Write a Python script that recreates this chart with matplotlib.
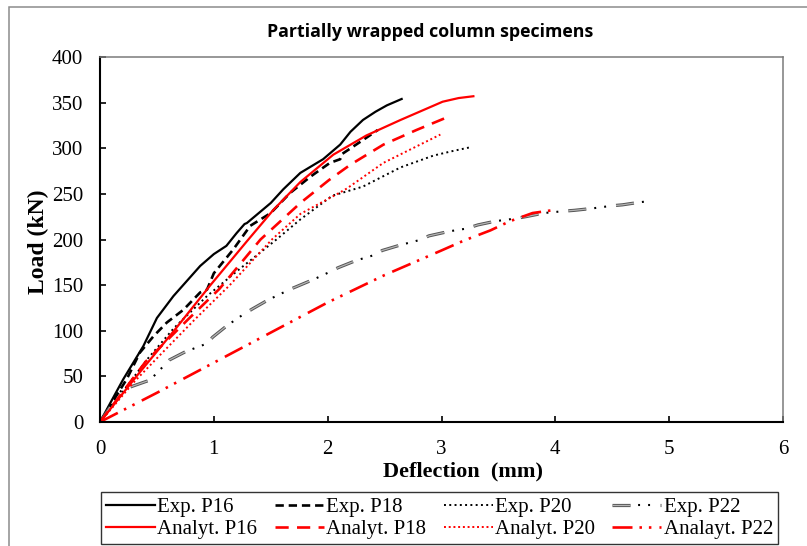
import matplotlib
matplotlib.use('Agg')
import matplotlib.pyplot as plt
from matplotlib.legend_handler import HandlerTuple
from matplotlib.patches import Rectangle
from matplotlib.font_manager import FontProperties

plt.rcParams['lines.scale_dashes'] = False

# ---------------- data (deflection in mm, load in kN) ----------------
exp_p16_d = [0, 0.1, 0.205, 0.38, 0.5, 0.645, 0.88, 1.0, 1.11, 1.2, 1.27, 1.29, 1.5, 1.61, 1.76, 1.96, 2.11, 2.2, 2.31, 2.42, 2.52, 2.65]
exp_p16_L = [0, 23, 47, 83, 114, 138, 171, 184, 193, 207, 217, 218, 240, 255, 273, 288, 304, 318, 331, 340, 347, 354]

exp_p18_d = [0, 0.235, 0.35, 0.47, 0.587, 0.733, 0.88, 0.94, 1.0, 1.17, 1.32, 1.5, 1.67, 1.85, 2.02, 2.11, 2.13, 2.31, 2.44]
exp_p18_L = [0, 47, 76, 94, 109, 123, 142, 145, 163, 189, 215, 229, 251, 269, 284, 288, 294, 309, 320]

exp_p20_d = [0, 0.2, 0.41, 0.65, 0.94, 1.2, 1.55, 1.76, 2.04, 2.15, 2.31, 2.64, 2.93, 3.1, 3.25]
exp_p20_L = [0, 33, 68, 103, 138, 165, 200, 222, 248, 252, 258, 279, 292, 297, 301]

exp_p22_d = [0, 0.19, 0.44, 0.61, 0.75, 0.94, 0.99, 1.12, 1.26, 1.34, 1.48, 1.63, 1.70, 1.89, 2.01, 2.09, 2.25,
             2.41, 2.48, 2.64, 2.81, 2.89, 3.07, 3.22, 3.32, 3.47, 3.65, 3.74, 3.9, 4.07, 4.17, 4.32, 4.5, 4.59, 4.75, 4.83]
exp_p22_L = [0, 35, 46, 68, 77, 86, 93, 106, 118, 124, 134, 143, 147, 157, 164, 169, 177,
             183, 188, 194, 199.5, 204, 209, 212, 216, 220, 223, 225, 229, 231, 232, 234, 237, 238, 241, 242]

an_p16_d = [0, 0.32, 0.65, 0.97, 1.29, 1.52, 1.76, 2.05, 2.34, 2.64, 3.01, 3.15, 3.28]
an_p16_L = [0, 50, 100, 150, 198, 232, 263, 293, 314, 331, 351, 355, 357]

an_p18_d = [0, 0.4, 0.77, 1.05, 1.41, 1.76, 2.01, 2.2, 2.49, 2.78, 3.07]
an_p18_L = [0, 66, 112, 146, 200, 240, 265, 282, 304, 320, 335]

an_p20_d = [0, 0.3, 0.54, 0.83, 1.14, 1.51, 1.76, 2.1, 2.17, 2.49, 2.78, 2.99]
an_p20_L = [0, 44, 75, 112, 150, 200, 228, 251, 256, 284, 302, 315]

an_p22_d = [0, 0.5, 1.0, 1.5, 2.0, 2.5, 3.0, 3.2, 3.43, 3.6, 3.8, 3.97]
an_p22_L = [0, 32, 65, 98, 131, 161, 188, 199, 210, 220, 229, 232]

labels = ['Exp. P16', 'Analyt. P16', 'Exp. P18', 'Analyt. P18',
          'Exp. P20', 'Analyt. P20', 'Exp. P22', 'Analayt. P22']
x_ticks = [0, 1, 2, 3, 4, 5, 6]
y_ticks = [0, 50, 100, 150, 200, 250, 300, 350, 400]

# ---------------- figure ----------------
W, H = 807, 546
fig = plt.figure(figsize=(W / 100, H / 100), dpi=100)
fig.patches.append(Rectangle((9 / W, -0.2), 1.2, 1 - 7 / H + 0.2, transform=fig.transFigure,
                             fill=False, edgecolor='#8c8c8c', lw=1.1, zorder=0))
ax = fig.add_axes([100 / W, 1 - 422 / H, 683 / W, 365 / H])

serif = 'Liberation Serif'

h1, = ax.plot(exp_p16_d, exp_p16_L, color='black', lw=1.6, solid_joinstyle='round')
h2, = ax.plot(exp_p18_d, exp_p18_L, color='black', lw=1.9, dashes=(6, 3.5))
h3, = ax.plot(exp_p20_d, exp_p20_L, color='black', lw=1.4, dashes=(1.4, 2.4))
h4a, = ax.plot(exp_p22_d, exp_p22_L, color='#555555', lw=2.3, dashes=(13, 21.6))
h4b, = ax.plot(exp_p22_d, exp_p22_L, color='#b5b5b5', lw=0.9, dashes=(13, 21.6))
h4c, = ax.plot(exp_p22_d, exp_p22_L, color='black', lw=1.5, linestyle=(15.8, (1.4, 5.8, 1.4, 26)))

r1, = ax.plot(an_p16_d, an_p16_L, color='red', lw=1.6)
r2, = ax.plot(an_p18_d, an_p18_L, color='red', lw=1.9, dashes=(9.5, 6))
r3, = ax.plot(an_p20_d, an_p20_L, color='red', lw=1.4, dashes=(1.4, 2.0))
r4, = ax.plot(an_p22_d, an_p22_L, color='red', lw=1.9, linestyle=(0, (14.4, 5, 1.8, 5, 1.8, 5.8)))

ax.set_xlim(0, 6)
ax.set_ylim(0, 400)
ax.set_xticks(x_ticks)
ax.set_yticks(y_ticks)
ax.set_xticklabels([str(v) for v in x_ticks], fontfamily=serif, fontsize=15)
ax.set_yticklabels([str(v) for v in y_ticks], fontfamily=serif, fontsize=15)
ax.tick_params(direction='in', length=4, width=1.2, color='black', pad=12)
ax.tick_params(axis='x', pad=13)

for s in ['left', 'bottom']:
    ax.spines[s].set_linewidth(1.5)
    ax.spines[s].set_color('black')
for s in ['top', 'right']:
    ax.spines[s].set_linewidth(1.1)
    ax.spines[s].set_color('#7a7a7a')

ax.set_xlabel('Deflection  (mm)', fontfamily=serif, fontweight='bold', fontsize=16)
ax.xaxis.set_label_coords((463 - 100) / 683, -(471 - 422) / 365)
ax.xaxis.label.set_va('center')
ax.set_ylabel('Load (kN)', fontfamily=serif, fontweight='bold', fontsize=17)
ax.yaxis.set_label_coords(-(100 - 38) / 683, (422 - 242) / 365)
ax.yaxis.label.set_va('center')

fig.text(430 / W, 1 - 32 / H, 'Partially wrapped column specimens', ha='center', va='center',
         fontfamily='Open Sans', fontweight='bold', fontsize=12.8)

handles = [h1, r1, h2, r2, h3, r3, (h4a, h4b, h4c), r4]
leg = fig.legend(handles, labels, ncol=4, loc='upper left',
                 bbox_to_anchor=(101 / W, 1 - 492 / H),
                 prop=FontProperties(family=serif, size=15),
                 handlelength=2.35, handletextpad=0.1, columnspacing=0.85,
                 labelspacing=0.12, borderpad=0.25, borderaxespad=0,
                 frameon=True, fancybox=False, edgecolor='black',
                 handler_map={tuple: HandlerTuple(ndivide=1)})
leg.get_frame().set_linewidth(1.0)

fig.savefig('out.png', dpi=100)
